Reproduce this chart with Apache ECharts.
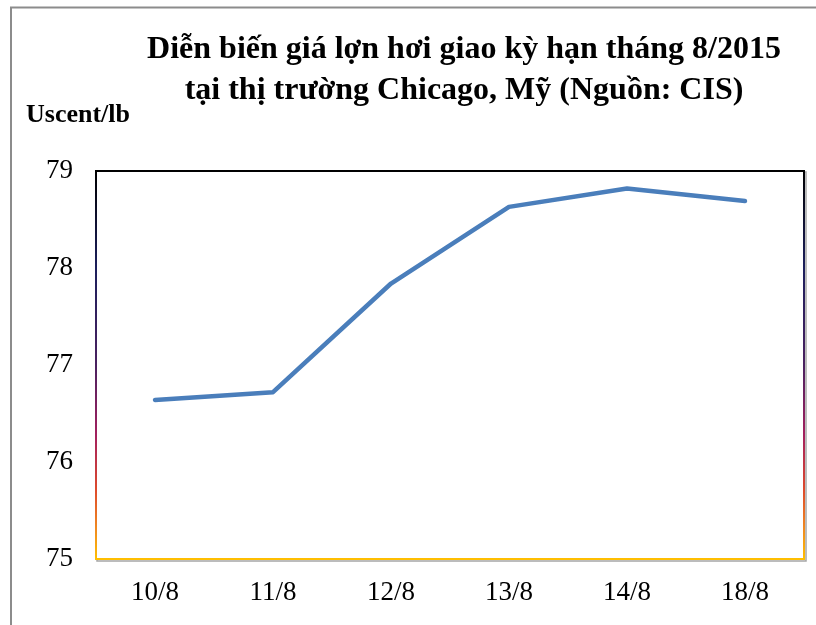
<!DOCTYPE html>
<html>
<head>
<meta charset="utf-8">
<script src="https://cdn.jsdelivr.net/npm/echarts@6/dist/echarts.min.js"></script>
<style>
  html, body { margin: 0; padding: 0; background: #fff; }
  #chart { width: 816px; height: 625px; }
</style>
</head>
<body>
<div id="chart"></div>
<script>
// Ngày giao dịch và giá lợn hơi kỳ hạn tháng 8/2015 (Uscent/lb)
const days = ['10/8', '11/8', '12/8', '13/8', '14/8', '18/8'];
const prices = [76.64, 76.72, 77.84, 78.63, 78.82, 78.69];
const yTicks = [75, 76, 77, 78, 79];

const titleLines = [
  'Diễn biến giá lợn hơi giao kỳ hạn tháng 8/2015',
  'tại thị trường Chicago, Mỹ (Nguồn: CIS)'
];
const unitLabel = 'Uscent/lb';

const chart = echarts.init(document.getElementById('chart'), null, { renderer: 'canvas' });

const serif = '"Liberation Serif", "Times New Roman", serif';

// Khung viền: đen ở trên, chuyển dần sang vàng cam ở dưới
const frameGradient = new echarts.graphic.LinearGradient(0, 0, 0, 1, [
  { offset: 0, color: '#000000' },
  { offset: 0.25, color: '#1c1f5c' },
  { offset: 0.5, color: '#4a2160' },
  { offset: 0.68, color: '#a3205e' },
  { offset: 0.82, color: '#de4a2c' },
  { offset: 0.92, color: '#f08a20' },
  { offset: 1, color: '#ffc000' }
]);

chart.setOption({
  animation: false,
  backgroundColor: '#ffffff',
  title: {
    text: titleLines.join('\n'),
    left: 459,
    top: 24,
    textAlign: 'center',
    textStyle: {
      fontFamily: serif,
      fontWeight: 'bold',
      fontSize: 32,
      lineHeight: 41,
      color: '#000'
    }
  },
  graphic: [
    // viền ngoài màu xám
    { type: 'line', shape: { x1: 10, y1: 7.5, x2: 816, y2: 7.5 }, style: { stroke: '#8c8c8c', lineWidth: 2 }, z: 10 },
    { type: 'line', shape: { x1: 11, y1: 7, x2: 11, y2: 625 }, style: { stroke: '#8c8c8c', lineWidth: 2 }, z: 10 },
    // bóng mờ của khung biểu đồ
    { type: 'rect', shape: { x: 97, y: 172, width: 709, height: 389 }, style: { fill: 'none', stroke: '#a6a6a6', lineWidth: 1.5 }, z: 0 },
    {
      type: 'text',
      left: 26,
      top: 102,
      style: {
        text: unitLabel,
        fontFamily: serif,
        fontWeight: 'bold',
        fontSize: 26,
        fill: '#000'
      }
    }
  ],
  grid: {
    left: 96,
    right: 12,
    top: 171,
    bottom: 66,
    show: true,
    backgroundColor: '#ffffff',
    borderColor: frameGradient,
    borderWidth: 2,
    z: 1
  },
  xAxis: {
    type: 'category',
    data: days,
    boundaryGap: true,
    axisLine: { show: false },
    axisTick: { show: false },
    axisLabel: {
      margin: 20,
      fontFamily: serif,
      fontSize: 27,
      color: '#000'
    },
    splitLine: { show: false }
  },
  yAxis: {
    type: 'value',
    min: yTicks[0],
    max: yTicks[yTicks.length - 1],
    interval: 1,
    axisLine: { show: false },
    axisTick: { show: false },
    splitLine: { show: false },
    axisLabel: {
      margin: 23,
      fontFamily: serif,
      fontSize: 27,
      color: '#000'
    }
  },
  series: [{
    type: 'line',
    data: prices,
    showSymbol: false,
    symbol: 'none',
    lineStyle: { color: '#4a7ebb', width: 4.5, cap: 'round', join: 'round' },
    z: 3
  }]
});
</script>
</body>
</html>
